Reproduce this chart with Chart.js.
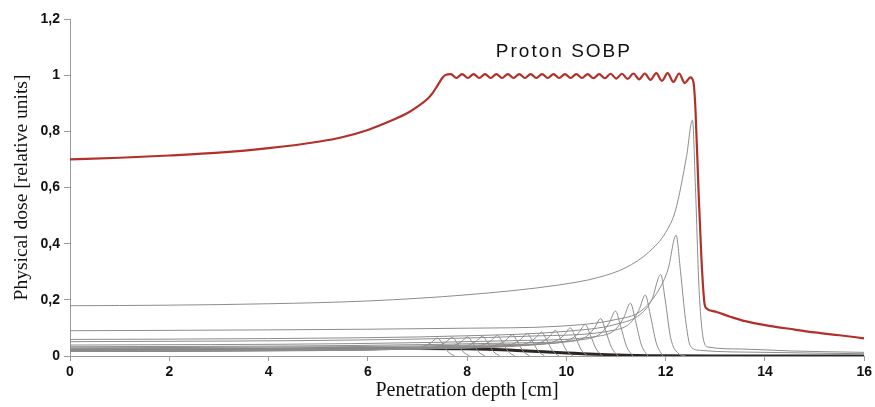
<!DOCTYPE html>
<html>
<head>
<meta charset="utf-8">
<title>Proton SOBP</title>
<script src="https://cdn.jsdelivr.net/npm/chart.js@4.4.1/dist/chart.umd.min.js"></script>
<style>
  html, body { margin: 0; padding: 0; background: #fff; }
  #wrap { width: 875px; height: 407px; position: relative; }
</style>
</head>
<body>
<div id="wrap"><canvas id="sobpChart"></canvas></div>
<script>
// Tick labels (comma decimals as in the original figure)
const xTicks = [0, 2, 4, 6, 8, 10, 12, 14, 16];
const yTickLabels = ['0', '0,2', '0,4', '0,6', '0,8', '1', '1,2'];

// Spread-out Bragg peak (red) - depth [cm] / dose
const sobpDepth = [0, 1, 2, 3, 4, 5, 5.5, 6, 6.5, 6.8, 7.0, 7.2, 7.3, 7.4, 7.5, 7.56,
  7.67, 7.785, 7.9, 8.015, 8.13, 8.245, 8.36, 8.475, 8.59, 8.705, 8.82, 8.935,
  9.05, 9.165, 9.28, 9.395, 9.51, 9.625, 9.74, 9.855, 9.97, 10.085, 10.2, 10.315,
  10.43, 10.545, 10.66, 10.775, 10.89, 11.005, 11.12, 11.235, 11.35, 11.465, 11.58,
  11.695, 11.81, 11.925, 12.04, 12.155, 12.27, 12.385, 12.5, 12.56, 12.6, 12.66,
  12.72, 12.78, 12.82, 13.0, 13.3, 13.6, 14.0, 14.6, 15.0, 15.5, 16.0];
const sobpDose = [0.700, 0.706, 0.714, 0.724, 0.740, 0.763, 0.780, 0.805, 0.840, 0.865, 0.888, 0.915, 0.935, 0.962, 0.99, 1.0,
  1.004, 0.99, 1.004, 0.99, 1.004, 0.99, 1.004, 0.99, 1.004, 0.99, 1.004, 0.99,
  1.004, 0.99, 1.004, 0.99, 1.004, 0.99, 1.004, 0.99, 1.004, 0.99, 1.004, 0.99,
  1.004, 0.989, 1.004, 0.989, 1.005, 0.988, 1.005, 0.987, 1.006, 0.985, 1.006,
  0.983, 1.007, 0.98, 1.007, 0.976, 1.006, 0.972, 0.992, 0.975, 0.88, 0.6,
  0.35, 0.19, 0.17, 0.158, 0.14, 0.124, 0.11, 0.094, 0.084, 0.074, 0.063];

// Individual pristine Bragg peaks (grey), [depth, dose] pairs
const braggPeaks = [
  [[0,0.016],[3.7,0.018],[5.9,0.021],[6.8,0.026],[7.1,0.033],[7.27,0.047],[7.40,0.064],[7.5,0.045],[7.62,0.014],[7.75,0]],
  [[0,0.017],[3.85,0.019],[6.2,0.023],[7.1,0.028],[7.4,0.035],[7.57,0.049],[7.70,0.066],[7.8,0.046],[7.92,0.015],[8.05,0]],
  [[0,0.017],[4.0,0.019],[6.4,0.023],[7.41,0.029],[7.71,0.036],[7.88,0.05],[8.01,0.068],[8.11,0.047],[8.23,0.015],[8.36,0]],
  [[0,0.018],[4.15,0.02],[6.65,0.024],[7.71,0.03],[8.01,0.037],[8.18,0.052],[8.31,0.070],[8.41,0.048],[8.53,0.016],[8.66,0]],
  [[0,0.019],[4.3,0.021],[6.9,0.025],[8.01,0.031],[8.31,0.039],[8.48,0.054],[8.61,0.073],[8.71,0.05],[8.83,0.016],[8.96,0]],
  [[0,0.019],[4.45,0.021],[7.1,0.026],[8.31,0.032],[8.61,0.04],[8.78,0.056],[8.91,0.076],[9.01,0.052],[9.13,0.017],[9.26,0]],
  [[0,0.02],[4.6,0.022],[7.4,0.027],[8.61,0.034],[8.91,0.042],[9.08,0.059],[9.21,0.08],[9.31,0.055],[9.43,0.018],[9.56,0]],
  [[0,0.021],[4.75,0.023],[7.6,0.028],[8.9,0.036],[9.2,0.045],[9.37,0.063],[9.5,0.085],[9.6,0.058],[9.72,0.019],[9.85,0]],
  [[0,0.022],[4.9,0.025],[7.8,0.03],[9.18,0.038],[9.48,0.048],[9.65,0.067],[9.78,0.091],[9.88,0.062],[10.0,0.02],[10.13,0]],
  [[0,0.024],[5.0,0.027],[8.05,0.033],[9.48,0.042],[9.78,0.053],[9.95,0.074],[10.08,0.1],[10.18,0.068],[10.3,0.022],[10.43,0]],
  [[0,0.026],[5.2,0.029],[8.3,0.036],[9.78,0.046],[10.08,0.059],[10.25,0.083],[10.38,0.112],[10.48,0.076],[10.6,0.025],[10.73,0]],
  [[0,0.029],[5.35,0.033],[8.55,0.04],[10.09,0.052],[10.39,0.068],[10.56,0.098],[10.69,0.133],[10.79,0.09],[10.91,0.03],[11.04,0]],
  [[0,0.033],[5.5,0.037],[8.8,0.046],[10.39,0.06],[10.69,0.08],[10.86,0.117],[10.99,0.16],[11.09,0.108],[11.21,0.035],[11.34,0]],
  [[0,0.039],[5.65,0.044],[9.0,0.055],[10.69,0.072],[10.99,0.095],[11.16,0.138],[11.29,0.188],[11.39,0.127],[11.51,0.04],[11.64,0]],
  [[0,0.051],[5.8,0.057],[9.3,0.071],[10.99,0.093],[11.29,0.118],[11.46,0.163],[11.59,0.217],[11.69,0.147],[11.81,0.047],[11.94,0]],
  [[0,0.059],[4,0.062],[8,0.072],[10,0.088],[11.0,0.113],[11.5,0.15],[11.72,0.2],[11.9,0.29],[11.99,0.2],[12.1,0.065],[12.25,0.01],[12.4,0]],
  [[0,0.09],[4,0.093],[8,0.099],[9.85,0.106],[11.0,0.13],[11.5,0.16],[11.86,0.235],[12.05,0.31],[12.21,0.43],[12.3,0.3],[12.4,0.13],[12.5,0.035],[12.7,0.02],[14,0.013],[16,0.008]],
  [[0,0.179],[2,0.181],[4,0.186],[6,0.196],[8,0.218],[9.85,0.253],[10.65,0.28],[11.2,0.315],[11.66,0.37],[12.0,0.44],[12.2,0.52],[12.42,0.71],[12.54,0.84],[12.6,0.6],[12.67,0.25],[12.75,0.07],[12.85,0.032],[13.5,0.025],[14.5,0.018],[16,0.013]]
];

// Dark bundle of low-weight entrance curves near the axis
const bundleDepth = [0, 2, 4, 6, 7, 8, 9, 10, 11, 12, 13, 16];
const bundleDose = [0.02, 0.021, 0.023, 0.026, 0.027, 0.026, 0.02, 0.011, 0.004, 0.001, 0, 0];

const toPoints = (xs, ys) => xs.map((x, i) => ({ x: x, y: ys[i] }));

// Text label drawn inside the plot area
const plotLabel = {
  id: 'plotLabel',
  afterDatasetsDraw(chart, args, opts) {
    const { ctx, scales } = chart;
    ctx.save();
    ctx.font = opts.font;
    ctx.fillStyle = opts.color;
    ctx.letterSpacing = opts.spacing;
    ctx.textAlign = 'center';
    ctx.textBaseline = 'middle';
    ctx.fillText(opts.text, scales.x.getPixelForValue(opts.x), scales.y.getPixelForValue(opts.y));
    ctx.restore();
  }
};

const datasets = [];
datasets.push({
  label: 'SOBP',
  data: toPoints(sobpDepth, sobpDose),
  borderColor: '#b3302a',
  borderWidth: 2.2
});
braggPeaks.forEach((curve, i) => {
  datasets.push({
    label: 'peak ' + (i + 1),
    data: curve.map(p => ({ x: p[0], y: p[1] })),
    borderColor: '#8c8c8c',
    borderWidth: 1
  });
});
datasets.push({
  label: 'bundle',
  data: toPoints(bundleDepth, bundleDose),
  borderColor: '#2b2622',
  borderWidth: 3
});

const axisGrey = '#9a9a9a';

new Chart(document.getElementById('sobpChart').getContext('2d'), {
  type: 'line',
  data: { datasets: datasets },
  plugins: [plotLabel],
  options: {
    responsive: true,
    maintainAspectRatio: false,
    animation: false,
    layout: { padding: { top: 19, right: 9, left: 0, bottom: 0 } },
    elements: {
      point: { radius: 0 },
      line: { cubicInterpolationMode: 'monotone', fill: false }
    },
    plugins: {
      legend: { display: false },
      tooltip: { enabled: false },
      plotLabel: {
        text: 'Proton SOBP',
        x: 9.95,
        y: 1.085,
        font: '19px "Liberation Sans", Arial, sans-serif',
        spacing: '2px',
        color: '#111'
      }
    },
    scales: {
      x: {
        type: 'linear',
        min: 0,
        max: 16,
        afterBuildTicks: scale => { scale.ticks = xTicks.map(v => ({ value: v })); },
        afterFit: scale => { scale.height = 51; },
        grid: { drawOnChartArea: false, drawTicks: true, tickLength: 5, color: axisGrey },
        border: { color: axisGrey, width: 1 },
        ticks: {
          color: '#111',
          padding: 3,
          font: { family: '"Liberation Sans", Arial, sans-serif', size: 14, weight: 'bold' }
        },
        title: {
          display: true,
          text: 'Penetration depth [cm]',
          color: '#111',
          padding: { top: 0, bottom: 4 },
          font: { family: '"Liberation Serif", "Times New Roman", serif', size: 20 }
        }
      },
      y: {
        min: 0,
        max: 1.2,
        ticks: {
          stepSize: 0.2,
          color: '#111',
          padding: 4,
          font: { family: '"Liberation Sans", Arial, sans-serif', size: 14, weight: 'bold' },
          callback: (v, i) => yTickLabels[i]
        },
        afterFit: scale => { scale.width = 70; },
        grid: { drawOnChartArea: false, drawTicks: true, tickLength: 6, color: axisGrey },
        border: { color: axisGrey, width: 1 },
        title: {
          display: true,
          text: 'Physical dose [relative units]',
          color: '#111',
          padding: { top: 10, bottom: 0 },
          font: { family: '"Liberation Serif", "Times New Roman", serif', size: 19.5 }
        }
      }
    }
  }
});
</script>
</body>
</html>
